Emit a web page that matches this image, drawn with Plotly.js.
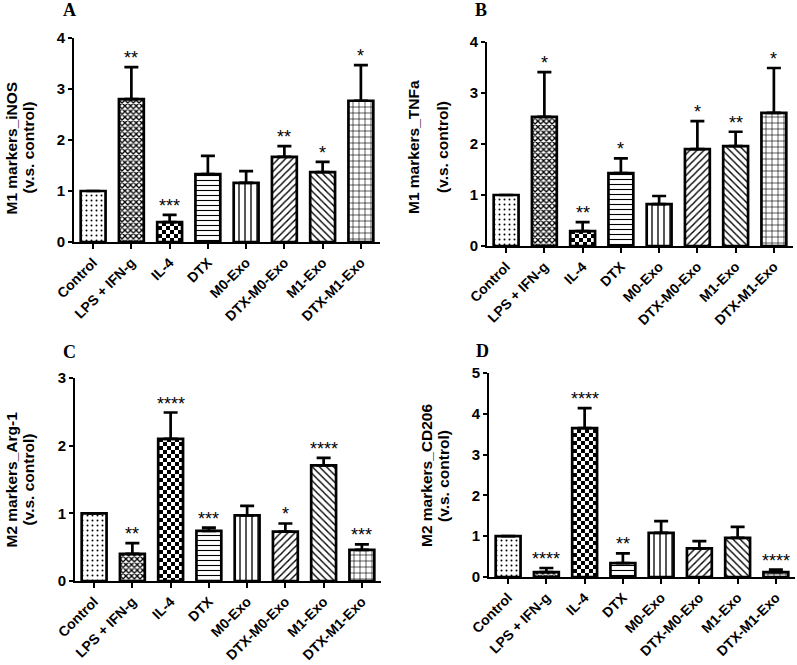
<!DOCTYPE html>
<html>
<head>
<meta charset="utf-8">
<script src="https://cdn.plot.ly/plotly-3.0.1.min.js"></script>
<style>html,body{margin:0;padding:0;background:#fff;}#chart{width:797px;height:665px;}</style>
</head>
<body>
<div id="chart"></div>
<script>
// ---- data ----
const categories = ["Control", "LPS + IFN-g", "IL-4", "DTX", "M0-Exo", "DTX-M0-Exo", "M1-Exo", "DTX-M1-Exo"];

const inosMean = [1.00, 2.80, 0.39, 1.33, 1.16, 1.67, 1.37, 2.77];
const inosErr  = [0.00, 0.63, 0.14, 0.36, 0.23, 0.21, 0.20, 0.70];
const inosStars = ["", "**", "***", "", "", "**", "*", "*"];

const tnfMean = [1.00, 2.53, 0.29, 1.43, 0.82, 1.90, 1.96, 2.61];
const tnfErr  = [0.00, 0.88, 0.18, 0.29, 0.16, 0.55, 0.28, 0.88];
const tnfStars = ["", "*", "**", "*", "", "*", "**", "*"];

const argMean = [1.00, 0.40, 2.10, 0.74, 0.97, 0.73, 1.71, 0.46];
const argErr  = [0.00, 0.16, 0.39, 0.05, 0.14, 0.12, 0.11, 0.08];
const argStars = ["", "**", "****", "***", "", "*", "****", "***"];

const cdMean = [1.00, 0.12, 3.65, 0.34, 1.08, 0.70, 0.96, 0.12];
const cdErr  = [0.00, 0.10, 0.49, 0.24, 0.29, 0.18, 0.27, 0.06];
const cdStars = ["", "****", "****", "**", "", "", "", "****"];

const panelLetters = ["A", "B", "C", "D"];
const titleLine1 = ["M1 markers_iNOS", "M1 markers_TNFa", "M2 markers_Arg-1", "M2 markers_CD206"];
const titleLine2 = ["(v.s. control)", "(v.s. control)", "(v.s. control)", "(v.s. control)"];
const yMax = [4, 4, 3, 5];

// ---- styling ----
const W = 797, H = 665;
const patShapes = [".", "x", "x", "-", "|", "/", "\\", "+"];
const patSizes  = [5, 4, 8, 5, 6, 5, 5, 6];
const patSolid  = [0.12, 0.55, 0.5, 0.22, 0.22, 0.28, 0.28, 0.2];
const CHECKER_INDEX = 2; // IL-4 bars drawn as checkerboard

const sans = "Liberation Sans, Arial, sans-serif";
const serif = "Liberation Serif, Times New Roman, serif";

// pixel boxes of each plot area [left, right, top, bottom]
const boxes = [
  [74, 380, 38, 242],
  [487, 793, 42, 246],
  [75, 381, 378, 581],
  [489, 795, 373, 577]
];
const titleX1 = [10.5, 413, 10.5, 426];
const titleX2 = [27.5, 442, 27.5, 443];
const titleY = [148, 147, 480, 476];
const letterPos = [[69, 10], [481, 10], [69, 352], [482, 351]];

const means = [inosMean, tnfMean, argMean, cdMean];
const errs = [inosErr, tnfErr, argErr, cdErr];
const stars = [inosStars, tnfStars, argStars, cdStars];

const traces = [];
const layout = {
  width: W, height: H,
  margin: {l: 0, r: 0, t: 0, b: 0},
  paper_bgcolor: "#fff", plot_bgcolor: "#fff",
  showlegend: false,
  bargap: 0.35,
  annotations: []
};

for (let p = 0; p < 4; p++) {
  const sfx = p === 0 ? "" : String(p + 1);
  const [l, r, t, b] = boxes[p];
  traces.push({
    type: "bar",
    x: categories,
    y: means[p],
    xaxis: "x" + sfx,
    yaxis: "y" + sfx,
    marker: {
      color: "#fff",
      line: {color: "#000", width: 2.7},
      pattern: {shape: patShapes, size: patSizes, solidity: patSolid, fgcolor: "#000", bgcolor: "#fff", fillmode: "replace"}
    },
    error_y: {type: "data", symmetric: false, array: errs[p], arrayminus: errs[p].map(() => 0), color: "#000", thickness: 2.7, width: 7},
    hoverinfo: "skip"
  });
  layout["xaxis" + sfx] = {
    domain: [l / W, r / W],
    anchor: "y" + sfx,
    type: "category",
    range: [-0.5, 7.5],
    showline: true, linecolor: "#000", linewidth: 2,
    ticks: "outside", ticklen: 5, tickwidth: 2, tickcolor: "#000",
    tickangle: -45,
    tickfont: {family: sans, size: 14, color: "#000", weight: "bold"},
    showgrid: false, zeroline: false, fixedrange: true
  };
  layout["yaxis" + sfx] = {
    domain: [(H - b) / H, (H - t) / H],
    anchor: "x" + sfx,
    range: [0, yMax[p]],
    dtick: 1, tick0: 0,
    showline: true, linecolor: "#000", linewidth: 2,
    ticks: "outside", ticklen: 4, tickwidth: 2, tickcolor: "#000",
    tickfont: {family: sans, size: 15, color: "#000", weight: "bold"},
    showgrid: false, zeroline: false, fixedrange: true
  };
  // significance stars
  categories.forEach((c, i) => {
    if (!stars[p][i]) return;
    layout.annotations.push({
      xref: "x" + sfx, yref: "y" + sfx,
      x: c, y: means[p][i] + errs[p][i],
      text: stars[p][i], showarrow: false,
      xanchor: "center", yanchor: "bottom", yshift: -3,
      font: {family: sans, size: 18, color: "#000"}
    });
  });
  // y-axis titles (two lines)
  layout.annotations.push({
    xref: "paper", yref: "paper", x: titleX1[p] / W, y: (H - titleY[p]) / H,
    text: titleLine1[p], textangle: -90, showarrow: false,
    xanchor: "center", yanchor: "middle",
    font: {family: sans, size: 15.5, color: "#000", weight: "bold"}
  });
  layout.annotations.push({
    xref: "paper", yref: "paper", x: titleX2[p] / W, y: (H - titleY[p]) / H,
    text: titleLine2[p], textangle: -90, showarrow: false,
    xanchor: "center", yanchor: "middle",
    font: {family: sans, size: 15.5, color: "#000", weight: "bold"}
  });
  // panel letter
  layout.annotations.push({
    xref: "paper", yref: "paper", x: letterPos[p][0] / W, y: (H - letterPos[p][1]) / H,
    text: panelLetters[p], showarrow: false,
    xanchor: "center", yanchor: "middle",
    font: {family: serif, size: 18, color: "#000", weight: "bold"}
  });
}

Plotly.newPlot("chart", traces, layout, {staticPlot: true, displayModeBar: false}).then(function (gd) {
  // turn the IL-4 fill pattern into an axis-aligned checkerboard
  try {
    const NS = "http://www.w3.org/2000/svg";
    const done = {};
    gd.querySelectorAll(".barlayer .trace").forEach(function (tr) {
      const pts = tr.querySelectorAll(".point path");
      const path = pts[CHECKER_INDEX];
      if (!path) return;
      const fill = path.style.fill || path.getAttribute("fill") || "";
      const m = fill.match(/#([^"')\s]+)/);
      if (!m || done[m[1]]) return;
      done[m[1]] = true;
      const pat = gd.querySelector('pattern[id="' + m[1] + '"]');
      if (!pat) return;
      const s = 8;
      pat.setAttribute("width", s);
      pat.setAttribute("height", s);
      while (pat.firstChild) pat.removeChild(pat.firstChild);
      const mk = function (x, y, w, h, c) {
        const r = document.createElementNS(NS, "rect");
        r.setAttribute("x", x); r.setAttribute("y", y);
        r.setAttribute("width", w); r.setAttribute("height", h);
        r.setAttribute("fill", c);
        pat.appendChild(r);
      };
      mk(0, 0, s, s, "#fff");
      mk(0, 0, s / 2, s / 2, "#000");
      mk(s / 2, s / 2, s / 2, s / 2, "#000");
    });
  } catch (e) { /* keep default pattern */ }
});
</script>
</body>
</html>
